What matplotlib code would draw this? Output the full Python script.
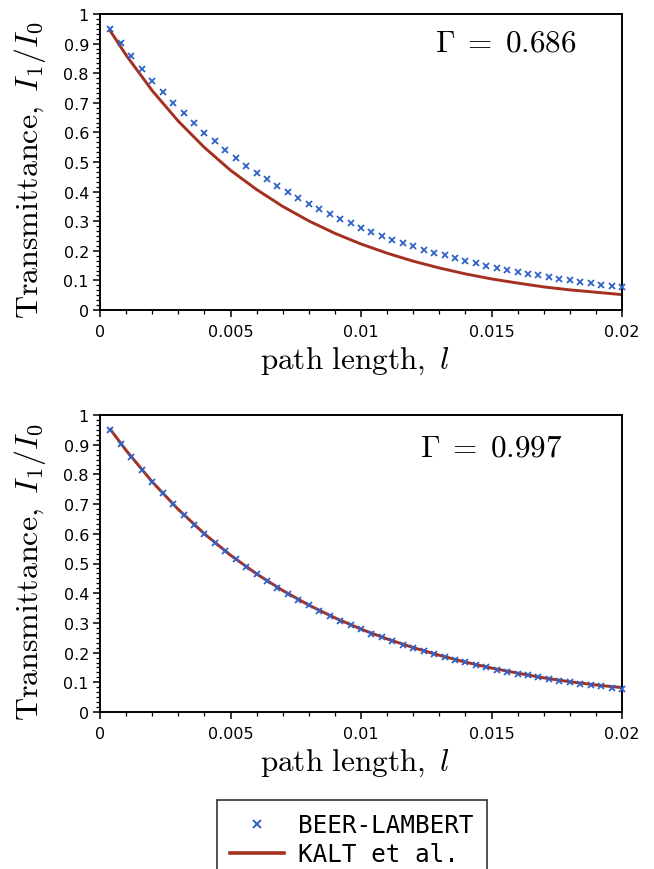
import matplotlib
matplotlib.use("Agg")
import matplotlib.pyplot as plt
from matplotlib.ticker import MultipleLocator, AutoMinorLocator, FuncFormatter
from matplotlib.lines import Line2D

plt.rcParams['mathtext.fontset'] = 'cm'
plt.rcParams['font.family'] = ['DejaVu Sans']

# ---- data ----
bl_x = [0.0004 * k for k in range(1, 51)]
bl_y = [0.950, 0.903, 0.858, 0.815, 0.774, 0.736, 0.699, 0.664, 0.631, 0.599,
        0.570, 0.541, 0.514, 0.488, 0.464, 0.441, 0.419, 0.398, 0.378, 0.359,
        0.341, 0.324, 0.308, 0.293, 0.278, 0.264, 0.251, 0.238, 0.227, 0.215,
        0.204, 0.194, 0.185, 0.175, 0.167, 0.158, 0.150, 0.143, 0.136, 0.129,
        0.123, 0.117, 0.111, 0.105, 0.100, 0.095, 0.090, 0.086, 0.081, 0.077]

kalt_x = [0.0004, 0.001, 0.002, 0.003, 0.004, 0.005, 0.006, 0.007, 0.008, 0.009,
          0.010, 0.011, 0.012, 0.013, 0.014, 0.015, 0.016, 0.017, 0.018, 0.019, 0.020]
kalt_top = [0.942, 0.861, 0.741, 0.638, 0.549, 0.472, 0.407, 0.350, 0.301, 0.259,
            0.223, 0.192, 0.165, 0.142, 0.122, 0.105, 0.091, 0.078, 0.068, 0.060, 0.052]
kalt_bottom = [0.951, 0.881, 0.775, 0.682, 0.600, 0.528, 0.465, 0.409, 0.360, 0.317,
               0.279, 0.246, 0.217, 0.191, 0.168, 0.148, 0.131, 0.115, 0.102, 0.091, 0.082]

gammas = ["0.686", "0.997"]
x_ticks = [0, 0.005, 0.01, 0.015, 0.02]
y_ticks = [0, 0.1, 0.2, 0.3, 0.4, 0.5, 0.6, 0.7, 0.8, 0.9, 1.0]

BLUE = '#2f62c8'
RED = '#a5301f'

W, H = 654, 870
fig = plt.figure(figsize=(W / 100, H / 100), dpi=100)

def px_axes(l, t, r, b):
    return fig.add_axes([l / W, 1 - b / H, (r - l) / W, (b - t) / H])

axes = [px_axes(100, 15, 622, 311), px_axes(100, 416, 622, 713)]
kalts = [kalt_top, kalt_bottom]
gpos = [(0.914, 0.905), (0.887, 0.892)]

fmt = FuncFormatter(lambda v, p: ('%g' % round(v, 4)))

for ax, ky, g, gp in zip(axes, kalts, gammas, gpos):
    ax.plot(kalt_x, ky, color=RED, lw=2.1, zorder=2)
    ax.plot(bl_x, bl_y, linestyle='none', marker='x', color=BLUE,
            ms=5, mew=1.3, zorder=3, clip_on=False)
    ax.set_xlim(0, 0.02)
    ax.set_ylim(0, 1)
    ax.set_xticks(x_ticks)
    ax.set_yticks(y_ticks)
    ax.xaxis.set_minor_locator(MultipleLocator(0.001))
    ax.yaxis.set_minor_locator(AutoMinorLocator(6))
    ax.xaxis.set_major_formatter(fmt)
    ax.yaxis.set_major_formatter(fmt)
    ax.tick_params(which='major', direction='out', length=5, width=1.1,
                   labelsize=11.5, top=False, right=False)
    ax.tick_params(which='minor', direction='out', length=3, width=0.9,
                   top=False, right=False)
    ax.tick_params(axis='x', which='major', pad=5)
    ax.tick_params(axis='y', which='major', pad=3)
    for s in ax.spines.values():
        s.set_linewidth(1.4)
    ax.text(gp[0], gp[1], r'$\Gamma\;=\;%s$' % g, transform=ax.transAxes,
            ha='right', va='center', fontsize=22.5)
    ax.text(-0.134, 0.475, r'$\mathrm{Transmittance,}\ I_1/I_0$',
            transform=ax.transAxes, rotation=90, ha='center', va='center',
            fontsize=23)
    ax.text(0.488, -0.17, r'$\mathrm{path\ length,}\ l$', transform=ax.transAxes,
            ha='center', va='center', fontsize=22.5)

handles = [Line2D([], [], linestyle='none', marker='x', color=BLUE, ms=5.5, mew=1.4),
           Line2D([], [], color=RED, lw=2.6)]
leg = fig.legend(handles, ['BEER-LAMBERT', 'KALT et al.'], loc='upper center',
                 bbox_to_anchor=(352 / W, 1 - 801 / H), frameon=True, fancybox=False,
                 edgecolor='black', prop={'family': 'DejaVu Sans Mono', 'size': 17.5},
                 handlelength=2.2, handletextpad=0.6, labelspacing=0.2,
                 borderpad=0.55, borderaxespad=0)
leg.get_frame().set_linewidth(1.2)

fig.savefig('out.png', dpi=100)
